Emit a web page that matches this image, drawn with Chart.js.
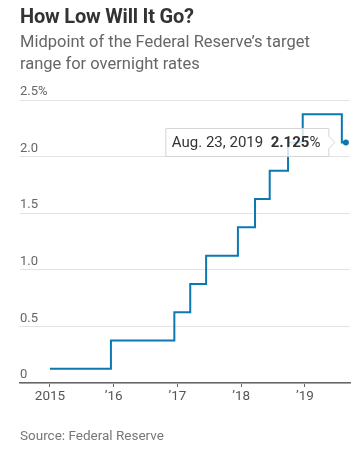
<!DOCTYPE html>
<html>
<head>
<meta charset="utf-8">
<script src="https://cdn.jsdelivr.net/npm/chart.js@4"></script>
<style>
    body { margin: 0; background: #fff; font-family: Roboto, sans-serif; }
    #wrap { position: relative; width: 361px; height: 453px; overflow: hidden; }
    #chart { position: absolute; left: 0; top: 0; }
    .title { position: absolute; left: 20px; top: 4px; font-size: 20px; font-weight: bold; color: #333; letter-spacing: -0.2px; }
    .subtitle { position: absolute; left: 20px; top: 31px; width: 330px; font-size: 16.5px; line-height: 22px; color: #666; }
    .source { position: absolute; left: 20px; top: 427px; font-size: 13.5px; color: #777; }
</style>
</head>
<body>
<div id="wrap">
    <canvas id="chart" width="361" height="453"></canvas>
    <div class="title">How Low Will It Go?</div>
    <div class="subtitle">Midpoint of the Federal Reserve’s target range for overnight rates</div>
    <div class="source">Source: Federal Reserve</div>
</div>
<script>
// dates when the midpoint changed, plus first and last day shown
const changeDates = ['2015-01-01', '2015-12-16', '2016-12-14', '2017-03-15', '2017-06-14', '2017-12-13',
    '2018-03-21', '2018-06-13', '2018-09-26', '2018-12-19', '2019-07-31', '2019-08-23'];
const midpoints = [0.125, 0.375, 0.625, 0.875, 1.125, 1.375, 1.625, 1.875, 2.125, 2.375, 2.125, 2.125];
const yearTicks = [2015, 2016, 2017, 2018, 2019];
const yearLabels = ['2015', '\u201916', '\u201917', '\u201918', '\u201919'];
const rateTicks = [0, 0.5, 1, 1.5, 2, 2.5];
const rateLabels = ['0', '0.5', '1.0', '1.5', '2.0', '2.5%'];
const tipDate = 'Aug. 23, 2019';
const tipValue = '2.125';

const lineColor = '#0b79b0';

function toYear(s) {
    const d = new Date(s + 'T00:00:00Z');
    const y = d.getUTCFullYear();
    const start = Date.UTC(y, 0, 1);
    const end = Date.UTC(y + 1, 0, 1);
    return y + (d - start) / (end - start);
}

const points = changeDates.map((d, i) => ({ x: toYear(d), y: midpoints[i] }));

// draws the callout next to the last point
const calloutPlugin = {
    id: 'callout',
    afterDatasetsDraw(chart) {
        const meta = chart.getDatasetMeta(0);
        const last = meta.data[meta.data.length - 1];
        const ctx = chart.ctx;
        const px = last.x, py = last.y;
        const right = px - 17, tip = px - 11;
        const h = 28, w = 163;
        const left = right - w, top = py - h / 2;

        ctx.save();
        ctx.beginPath();
        ctx.moveTo(left, top);
        ctx.lineTo(right, top);
        ctx.lineTo(right, py - 6);
        ctx.lineTo(tip, py);
        ctx.lineTo(right, py + 6);
        ctx.lineTo(right, top + h);
        ctx.lineTo(left, top + h);
        ctx.closePath();
        ctx.fillStyle = 'rgba(255,255,255,0.82)';
        ctx.fill();
        ctx.strokeStyle = '#d4d4d4';
        ctx.lineWidth = 1;
        ctx.stroke();

        ctx.textBaseline = 'middle';
        ctx.fillStyle = '#333';
        let x = left + 6;
        ctx.font = '15px Roboto';
        ctx.fillText(tipDate, x, py + 1);
        x += ctx.measureText(tipDate + '  ').width;
        ctx.font = 'bold 15px Roboto';
        ctx.fillText(tipValue, x, py + 1);
        x += ctx.measureText(tipValue).width;
        ctx.font = '15px Roboto';
        ctx.fillText('%', x, py + 1);
        ctx.restore();
    }
};

new Chart(document.getElementById('chart').getContext('2d'), {
    type: 'line',
    data: {
        datasets: [{
            data: points,
            borderColor: lineColor,
            borderWidth: 2,
            stepped: 'before',
            fill: false,
            pointRadius: points.map((p, i) => i === points.length - 1 ? 3 : 0),
            pointBackgroundColor: lineColor,
            pointBorderWidth: 0
        }]
    },
    options: {
        responsive: false,
        animation: false,
        layout: { padding: { left: 20, right: 11, top: 100, bottom: 40 } },
        plugins: { legend: { display: false }, tooltip: { enabled: false } },
        scales: {
            x: {
                type: 'linear',
                min: 2014.53,
                max: 2019.706,
                afterBuildTicks: (s) => { s.ticks = yearTicks.map(v => ({ value: v })); },
                afterFit: (s) => { s.height = 30; },
                grid: { display: true, drawOnChartArea: false, drawTicks: true, tickLength: 4, color: '#666', lineWidth: 1 },
                border: { display: true, color: '#666', width: 1.5 },
                ticks: {
                    padding: 2,
                    color: '#555',
                    font: { size: 13.5, family: 'Roboto' },
                    maxRotation: 0,
                    callback: (v) => yearLabels[yearTicks.indexOf(v)]
                }
            },
            y: {
                min: 0,
                max: 2.5,
                afterBuildTicks: (s) => { s.ticks = rateTicks.map(v => ({ value: v })); },
                afterFit: (s) => { s.width = 0; },
                grid: { color: '#e3e3e3', lineWidth: 1, drawTicks: false },
                border: { display: false },
                ticks: {
                    mirror: true,
                    padding: 0,
                    labelOffset: -8,
                    color: '#666',
                    font: { size: 13, family: 'Roboto' },
                    callback: (v) => rateLabels[rateTicks.indexOf(v)]
                }
            }
        }
    },
    plugins: [calloutPlugin]
});
</script>
</body>
</html>
